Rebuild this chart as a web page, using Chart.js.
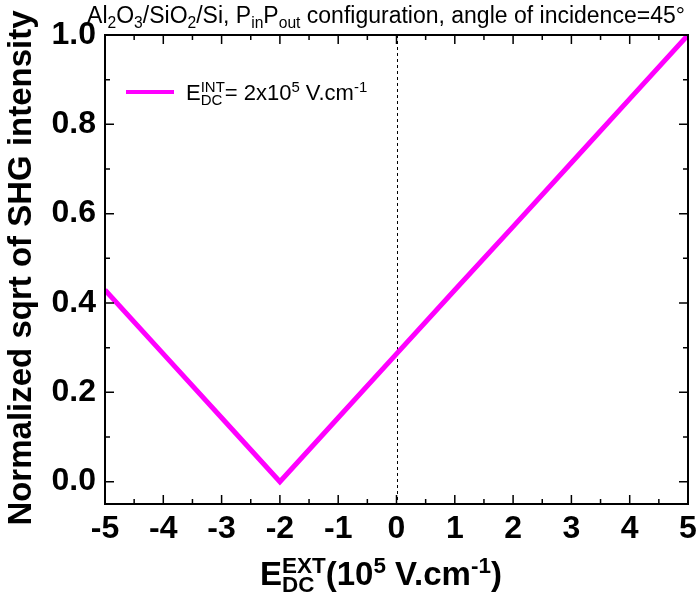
<!DOCTYPE html>
<html lang="en">
<head>
<meta charset="UTF-8">
<title>Normalized sqrt of SHG intensity</title>
<script src="https://cdn.jsdelivr.net/npm/chart.js"></script>
<style>
  html, body { margin: 0; padding: 0; background: #fff; }
  #wrap { width: 698px; height: 597px; }
</style>
</head>
<body>
<div id="wrap"><canvas id="chart" width="698" height="597"></canvas></div>
<script>
// values (E_DC^EXT in 1e5 V/cm, normalized sqrt SHG)
const fieldExt = [-5, -4, -3, -2, -1, 0, 1, 2, 3, 4, 5];
const sqrtShg  = [0.429, 0.286, 0.143, 0.0, 0.143, 0.286, 0.429, 0.571, 0.714, 0.857, 1.0];

const xTicks = [-5, -4, -3, -2, -1, 0, 1, 2, 3, 4, 5];
const xMinor = [-4.5, -3.5, -2.5, -1.5, -0.5, 0.5, 1.5, 2.5, 3.5, 4.5];
const yTicks = [0.0, 0.2, 0.4, 0.6, 0.8, 1.0];
const yMinor = [0.1, 0.3, 0.5, 0.7, 0.9];

const LINE = '#ff00ff';
const FONT = '"Liberation Sans", Arial, sans-serif';

// rich text: parts are {t} normal, {t, sub:1}, {t, sup:1}, or {up, dn} stacked
function richWidth(ctx, parts, size, weight) {
  const small = size * 0.68;
  let w = 0;
  for (const p of parts) {
    if (p.up !== undefined) {
      ctx.font = weight + ' ' + small + 'px ' + FONT;
      w += Math.max(ctx.measureText(p.up).width, ctx.measureText(p.dn).width);
    } else {
      ctx.font = weight + ' ' + ((p.sub || p.sup) ? small : size) + 'px ' + FONT;
      w += ctx.measureText(p.t).width;
    }
  }
  return w;
}

function drawRich(ctx, parts, x, y, size, weight, align) {
  const small = size * 0.68;
  let cx = x;
  if (align === 'center') cx = x - richWidth(ctx, parts, size, weight) / 2;
  ctx.textAlign = 'left';
  ctx.textBaseline = 'alphabetic';
  ctx.fillStyle = '#000';
  for (const p of parts) {
    if (p.up !== undefined) {
      ctx.font = weight + ' ' + small + 'px ' + FONT;
      ctx.fillText(p.up, cx, y - size * 0.36);
      ctx.fillText(p.dn, cx, y + size * 0.22);
      cx += Math.max(ctx.measureText(p.up).width, ctx.measureText(p.dn).width);
    } else if (p.sub) {
      ctx.font = weight + ' ' + small + 'px ' + FONT;
      ctx.fillText(p.t, cx, y + size * 0.22);
      cx += ctx.measureText(p.t).width;
    } else if (p.sup) {
      ctx.font = weight + ' ' + small + 'px ' + FONT;
      ctx.fillText(p.t, cx, y - size * 0.36);
      cx += ctx.measureText(p.t).width;
    } else {
      ctx.font = weight + ' ' + size + 'px ' + FONT;
      ctx.fillText(p.t, cx, y);
      cx += ctx.measureText(p.t).width;
    }
  }
}

const titleParts = [
  {t: 'Al'}, {t: '2', sub: 1}, {t: 'O'}, {t: '3', sub: 1}, {t: '/SiO'}, {t: '2', sub: 1},
  {t: '/Si, P'}, {t: 'in', sub: 1}, {t: 'P'}, {t: 'out', sub: 1},
  {t: ' configuration, angle of incidence=45°'}
];
const legendParts = [
  {t: 'E'}, {up: 'INT', dn: 'DC'}, {t: '= 2x10'}, {t: '5', sup: 1}, {t: ' V.cm'}, {t: '-1', sup: 1}
];
const xTitleParts = [
  {t: 'E'}, {up: 'EXT', dn: 'DC'}, {t: '(10'}, {t: '5', sup: 1}, {t: ' V.cm'}, {t: '-1', sup: 1}, {t: ')'}
];

const decor = {
  id: 'decor',
  beforeDatasetsDraw(chart) {
    const {ctx, chartArea: a, scales: {x}} = chart;
    // dashed line at E = 0
    ctx.save();
    ctx.strokeStyle = '#000';
    ctx.lineWidth = 1;
    ctx.setLineDash([3, 3]);
    const x0 = Math.round(x.getPixelForValue(0)) + 0.5;
    ctx.beginPath();
    ctx.moveTo(x0, a.top);
    ctx.lineTo(x0, a.bottom);
    ctx.stroke();
    ctx.restore();
  },
  afterDraw(chart) {
    const {ctx, chartArea: a, scales: {x, y}} = chart;
    ctx.save();
    ctx.strokeStyle = '#000';
    ctx.lineWidth = 2;
    ctx.strokeRect(a.left, a.top, a.right - a.left, a.bottom - a.top);

    // inward ticks on all four sides
    ctx.lineWidth = 1.5;
    ctx.beginPath();
    const tx = (v, len) => {
      const px = x.getPixelForValue(v);
      ctx.moveTo(px, a.bottom); ctx.lineTo(px, a.bottom - len);
      ctx.moveTo(px, a.top); ctx.lineTo(px, a.top + len);
    };
    const ty = (v, len) => {
      const py = y.getPixelForValue(v);
      ctx.moveTo(a.left, py); ctx.lineTo(a.left + len, py);
      ctx.moveTo(a.right, py); ctx.lineTo(a.right - len, py);
    };
    xTicks.forEach(v => tx(v, 9));
    xMinor.forEach(v => tx(v, 5));
    yTicks.forEach(v => ty(v, 9));
    yMinor.forEach(v => ty(v, 5));
    ctx.stroke();

    // legend
    ctx.strokeStyle = LINE;
    ctx.lineWidth = 4;
    ctx.beginPath();
    ctx.moveTo(126, 92);
    ctx.lineTo(174, 92);
    ctx.stroke();
    drawRich(ctx, legendParts, 186, 100, 22, 'normal', 'left');

    // title
    drawRich(ctx, titleParts, 386, 23, 23, 'normal', 'center');

    // x axis title
    drawRich(ctx, xTitleParts, 381, 585, 33, 'bold', 'center');

    // y axis title
    ctx.translate(31, 268);
    ctx.rotate(-Math.PI / 2);
    ctx.font = 'bold 33px ' + FONT;
    ctx.textAlign = 'center';
    ctx.textBaseline = 'alphabetic';
    ctx.fillStyle = '#000';
    ctx.fillText('Normalized sqrt of SHG intensity', 0, 0);
    ctx.restore();
  }
};

new Chart(document.getElementById('chart'), {
  type: 'scatter',
  data: {
    datasets: [{
      label: 'E_DC^INT = 2x10^5 V/cm',
      data: fieldExt.map((v, i) => ({x: v, y: sqrtShg[i]})),
      showLine: true,
      borderColor: LINE,
      backgroundColor: LINE,
      borderWidth: 5,
      pointRadius: 0,
      tension: 0
    }]
  },
  options: {
    responsive: false,
    animation: false,
    devicePixelRatio: 1,
    layout: {padding: {top: 35, right: 10, left: 0, bottom: 0}},
    plugins: {legend: {display: false}, tooltip: {enabled: false}},
    scales: {
      x: {
        type: 'linear', min: -5, max: 5,
        afterBuildTicks: s => { s.ticks = xTicks.map(v => ({value: v})); },
        afterFit: s => { s.height = 93; s.paddingLeft = 0; s.paddingRight = 0; },
        grid: {display: false, drawTicks: false},
        border: {display: false},
        ticks: {
          padding: 6, color: '#000', maxRotation: 0, minRotation: 0, autoSkip: false,
          font: {family: FONT, size: 32, weight: 'bold'},
          callback: v => String(v)
        }
      },
      y: {
        min: -0.05, max: 1.0,
        afterBuildTicks: s => { s.ticks = yTicks.map(v => ({value: v})); },
        afterFit: s => { s.width = 105; s.paddingTop = 0; s.paddingBottom = 0; },
        grid: {display: false, drawTicks: false},
        border: {display: false},
        ticks: {
          padding: 9, color: '#000', autoSkip: false,
          font: {family: FONT, size: 32, weight: 'bold'},
          callback: v => Number(v).toFixed(1)
        }
      }
    }
  },
  plugins: [decor]
});
</script>
</body>
</html>
